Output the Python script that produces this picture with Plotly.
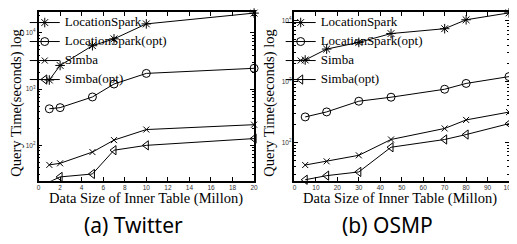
import plotly.graph_objects as go

# ---------------- data ----------------
series_names = ["LocationSpark", "LocationSpark(opt)", "Simba", "Simba(opt)"]

tw_x = [1, 2, 5, 7, 10, 20]
tw_ls = [1450, 2630, 5900, 7800, 14400, 22400]
tw_ls_opt = [447, 468, 724, 1230, 1900, 2340]
tw_simba = [45, 48, 76, 124, 191, 233]
tw_simba_opt = [22.4, 27.5, 31, 82, 100, 132]

os_x = [5, 15, 30, 45, 70, 80, 100]
os_ls = [2270, 3430, 4420, 6170, 7420, 10400, 13500]
os_ls_opt = [263, 318, 477, 555, 750, 935, 1210]
os_simba = [42.6, 49, 61.5, 112, 170, 235, 316]
os_simba_opt = [24.4, 28.5, 32.8, 83.5, 112, 135, 204]

y_tickvals = [100, 1000, 10000]
y_ticktext = ["10<sup>2</sup>", "10<sup>3</sup>", "10<sup>4</sup>"]
y_minor = [20, 30, 40, 50, 60, 70, 80, 90, 200, 300, 400, 500, 600, 700, 800, 900,
           2000, 3000, 4000, 5000, 6000, 7000, 8000, 9000, 20000]
tw_xticks = list(range(0, 21, 2))
os_xticks = list(range(0, 101, 10))

captions = ["(a) Twitter", "(b) OSMP"]
x_title = "Data Size of Inner Table (Millon)"
y_title = "Query Time(seconds) log"

# ---------------- style ----------------
OFF = 8  # page body margin
W, H = 517 - OFF, 244 - OFF
SERIF = "Liberation Serif, Times New Roman, serif"
markers = ["asterisk-open", "circle-open", "x-thin-open", "triangle-left-open"]
msize = [8, 8, 6, 8]

def px(x):
    return (x - OFF) / W

def py(y):
    return 1 - (y - OFF) / H

fig = go.Figure()

panels = [
    (tw_x, [tw_ls, tw_ls_opt, tw_simba, tw_simba_opt], "x", "y", "legend"),
    (os_x, [os_ls, os_ls_opt, os_simba, os_simba_opt], "x2", "y2", "legend2"),
]
for xs, ys_list, xa, ya, lg in panels:
    for name, ys, m, ms in zip(series_names, ys_list, markers, msize):
        fig.add_trace(go.Scatter(
            x=xs, y=ys, name='<span style="font-size:13px">' + name + '</span>',
            mode="lines+markers",
            xaxis=xa, yaxis=ya, legend=lg,
            line=dict(color="black", width=1),
            marker=dict(symbol=m, size=ms, color="black",
                        line=dict(color="black", width=1)),
            cliponaxis=False,
        ))

ydom = [py(180), py(9)]
common_axis = dict(
    showline=True, linecolor="black", linewidth=1.5, mirror="ticks",
    ticks="inside", ticklen=4, tickcolor="black", showgrid=False,
    zeroline=False,
    tickfont=dict(family="Liberation Sans, Arial", size=6.5, color="#333"),
)
minor = dict(ticks="inside", ticklen=2, tickcolor="black", tickvals=y_minor, showgrid=False)

leg_common = dict(xanchor="left", yanchor="top", bgcolor="rgba(0,0,0,0)",
                  font=dict(family=SERIF, size=10, color="black"),
                  itemwidth=30, tracegroupgap=0, borderwidth=0)

fig.update_layout(
    width=W, height=H,
    margin=dict(l=0, r=0, t=0, b=0),
    paper_bgcolor="white", plot_bgcolor="white",
    showlegend=True,
    xaxis=dict(domain=[px(37), px(256)], range=[0, 20], tickvals=tw_xticks,
               anchor="y", **common_axis),
    yaxis=dict(domain=ydom, type="log", range=[1.37, 4.37],
               tickvals=y_tickvals, ticktext=y_ticktext, anchor="x",
               minor=minor, **common_axis),
    xaxis2=dict(domain=[px(297), px(515)], range=[0, 100], tickvals=os_xticks,
                anchor="y2", **common_axis),
    yaxis2=dict(domain=ydom, type="log", range=[1.37, 4.145],
                tickvals=y_tickvals, ticktext=y_ticktext, anchor="x2",
                minor=minor, **common_axis),
    legend=dict(x=px(23), y=py(5), **leg_common),
    legend2=dict(x=px(283), y=py(5), **leg_common),
)

ann = []
for cx, tx, ytx in [(133, 146, 15), (392, 404, 272)]:
    cap = captions[0] if cx < 200 else captions[1]
    ann.append(dict(text=x_title, x=px(tx), y=py(198), xref="paper", yref="paper",
                    showarrow=False, font=dict(family=SERIF, size=14.5, color="black"),
                    xanchor="center", yanchor="middle"))
    ann.append(dict(text=y_title, x=px(ytx), y=py(101), xref="paper", yref="paper",
                    showarrow=False, textangle=-90,
                    font=dict(family=SERIF, size=14.5, color="black"),
                    xanchor="center", yanchor="middle"))
    ann.append(dict(text=cap, x=px(cx), y=py(225),
                    xref="paper", yref="paper",
                    showarrow=False, font=dict(family="Noto Sans, DejaVu Sans", size=21, color="black"),
                    xanchor="center", yanchor="middle"))
fig.update_layout(annotations=ann)

fig.write_html("out.html")
